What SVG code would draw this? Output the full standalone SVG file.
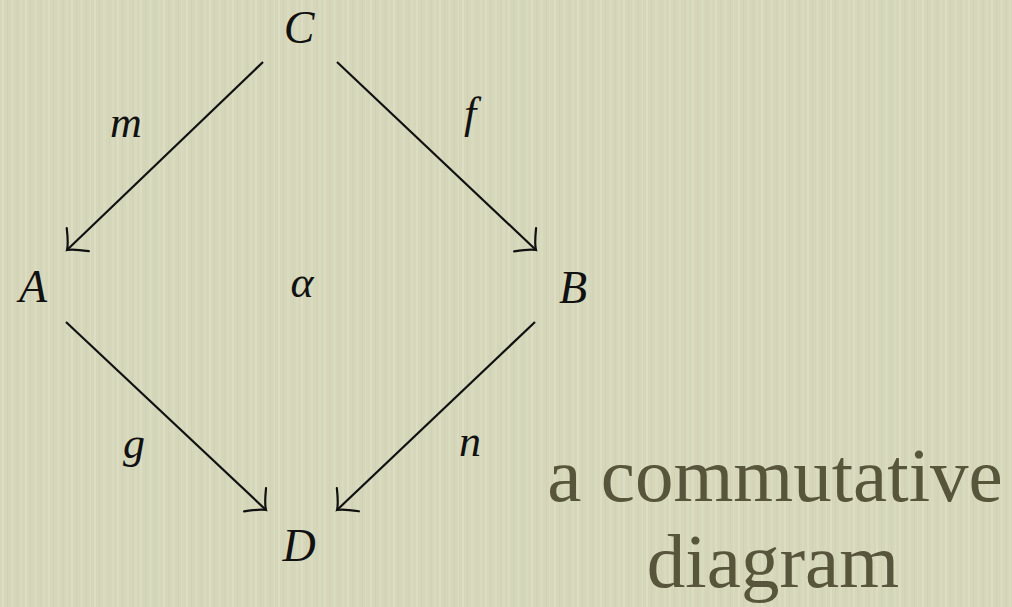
<svg xmlns="http://www.w3.org/2000/svg" width="1012" height="607" viewBox="0 0 1012 607">
  <style>
    .math { font-family: "Liberation Serif", "DejaVu Serif", serif; font-style: italic; font-size: 46px; fill: #111; text-anchor: middle; }
    .lbl { font-size: 44px; }
    .cap { font-family: "Liberation Serif", "DejaVu Serif", serif; font-size: 77px; fill: #57553c; text-anchor: middle; }
    .edge { stroke: #111; stroke-width: 2.2; fill: none; marker-end: url(#head); }
  </style>
  <defs>
    <pattern id="paper" width="23" height="607" patternUnits="userSpaceOnUse">
      <rect width="23" height="607" fill="#d6d7ba"/>
      <rect x="2" width="2" height="607" fill="#e2e3c9" opacity="0.5"/>
      <rect x="7" width="1" height="607" fill="#c9cbac" opacity="0.4"/>
      <rect x="11" width="3" height="607" fill="#dfe0c5" opacity="0.45"/>
      <rect x="17" width="1" height="607" fill="#cbcdae" opacity="0.4"/>
      <rect x="20" width="2" height="607" fill="#e0e1c6" opacity="0.35"/>
    </pattern>
    <marker id="head" markerUnits="userSpaceOnUse" viewBox="-20 -20 24 40" markerWidth="24" markerHeight="40" refX="0" refY="0" orient="auto">
      <path d="M -15 -16 Q -5 -3 0 0 Q -5 3 -15 16" fill="none" stroke="#111" stroke-width="2.2" stroke-linecap="round"/>
    </marker>
  </defs>
  <rect width="1012" height="607" fill="url(#paper)"/>

  <g id="connectors">
    <line id="e-CA" class="edge" x1="263" y1="62" x2="67" y2="250"/>
    <line id="e-CB" class="edge" x1="337" y1="62" x2="536" y2="250"/>
    <line id="e-AD" class="edge" x1="66" y1="322" x2="266" y2="510"/>
    <line id="e-BD" class="edge" x1="535" y1="322" x2="337" y2="510"/>
    <text class="math lbl" x="126" y="137">m</text>
    <text class="math lbl" x="470" y="128">f</text>
    <text class="math lbl" x="134" y="458">g</text>
    <text class="math lbl" x="470" y="456">n</text>
  </g>

  <g id="node-C"><text class="math" x="299" y="43">C</text></g>
  <g id="node-A"><text class="math" x="33" y="302">A</text></g>
  <g id="node-B"><text class="math" x="573" y="303">B</text></g>
  <g id="node-D"><text class="math" x="299" y="561">D</text></g>
  <g id="node-alpha"><text class="math lbl" x="302" y="297">α</text></g>

  <g id="caption">
    <text class="cap" x="775" y="501">a commutative</text>
    <text class="cap" x="773" y="587">diagram</text>
  </g>
</svg>
